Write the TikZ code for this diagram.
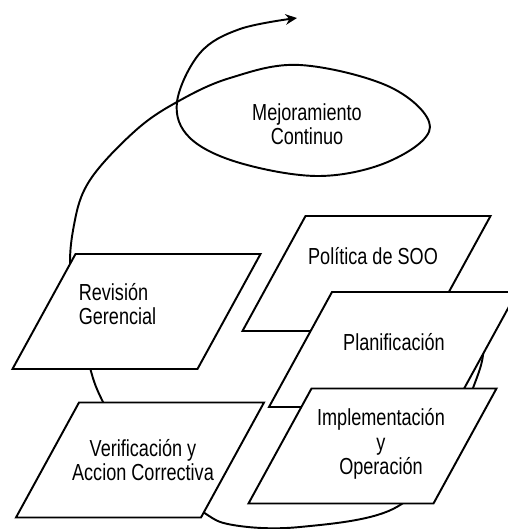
\documentclass[tikz,border=0pt]{standalone}
\usepackage{fontspec}
\setmainfont{Liberation Sans}[FakeStretch=0.78]
\usetikzlibrary{arrows.meta, positioning}

\begin{document}
\begin{tikzpicture}[
    stepbox/.style={rectangle, draw, line width=1.1pt, fill=white, minimum width=3.7cm, minimum height=2.3cm, inner sep=0pt, xslant=0.548},
    lbl/.style={font=\fontsize{13.2}{13.9}\selectfont, align=center, inner sep=0pt},
    cycle/.style={line width=1.1pt, ->, >={Stealth[length=6.5pt, width=6pt]}}
]
\useasboundingbox (0,0) rectangle (10.16,10.58);

% Spiral of continuous improvement
\draw[cycle] plot[smooth, tension=0.6] coordinates {
    (8.00,5.58) (8.90,4.78) (9.60,3.98) (9.66,3.48) (9.46,2.82) (8.90,1.48)
    (7.86,0.40) (6.00,0.04) (4.66,0.08) (4.00,0.38) (2.80,1.28) (2.06,2.54)
    (1.76,3.38) (1.42,4.98) (1.48,6.08) (1.80,6.98) (2.70,7.96) (3.54,8.54)
    (4.60,9.02) (6.00,9.28) (7.80,8.84) (8.60,8.04) (7.80,7.36) (6.40,7.06)
    (4.80,7.32) (3.80,7.82) (3.54,8.54) (4.00,9.52) (4.80,10.00) (5.94,10.22)};
\node[lbl] (mejora) at (6.14,8.10) {Mejoramiento\\Continuo};

% Process boxes
\node[stepbox] (revision) at (2.73,4.35) {};
\node[stepbox] (verificacion) at (2.80,1.38) {};
\node[stepbox] (politica) at (7.33,5.11) {};
\node[stepbox] (planificacion) at (7.86,3.59) {};
\node[stepbox] (implementacion) at (7.45,1.66) {};

% Box texts
\node[lbl, align=left] (revisiontxt) at (2.35,4.50) {Revisión\\Gerencial};
\node[lbl] (verificaciontxt) at (2.86,1.38) {Verificación y\\Accion Correctiva};
\node[lbl] (politicatxt) at (7.46,5.45) {Política de SOO};
\node[lbl] (planificaciontxt) at (7.88,3.74) {Planificación};
\node[lbl] (implementaciontxt) at (7.62,1.70) {Implementación\\y\\Operación};

\end{tikzpicture}
\end{document}
